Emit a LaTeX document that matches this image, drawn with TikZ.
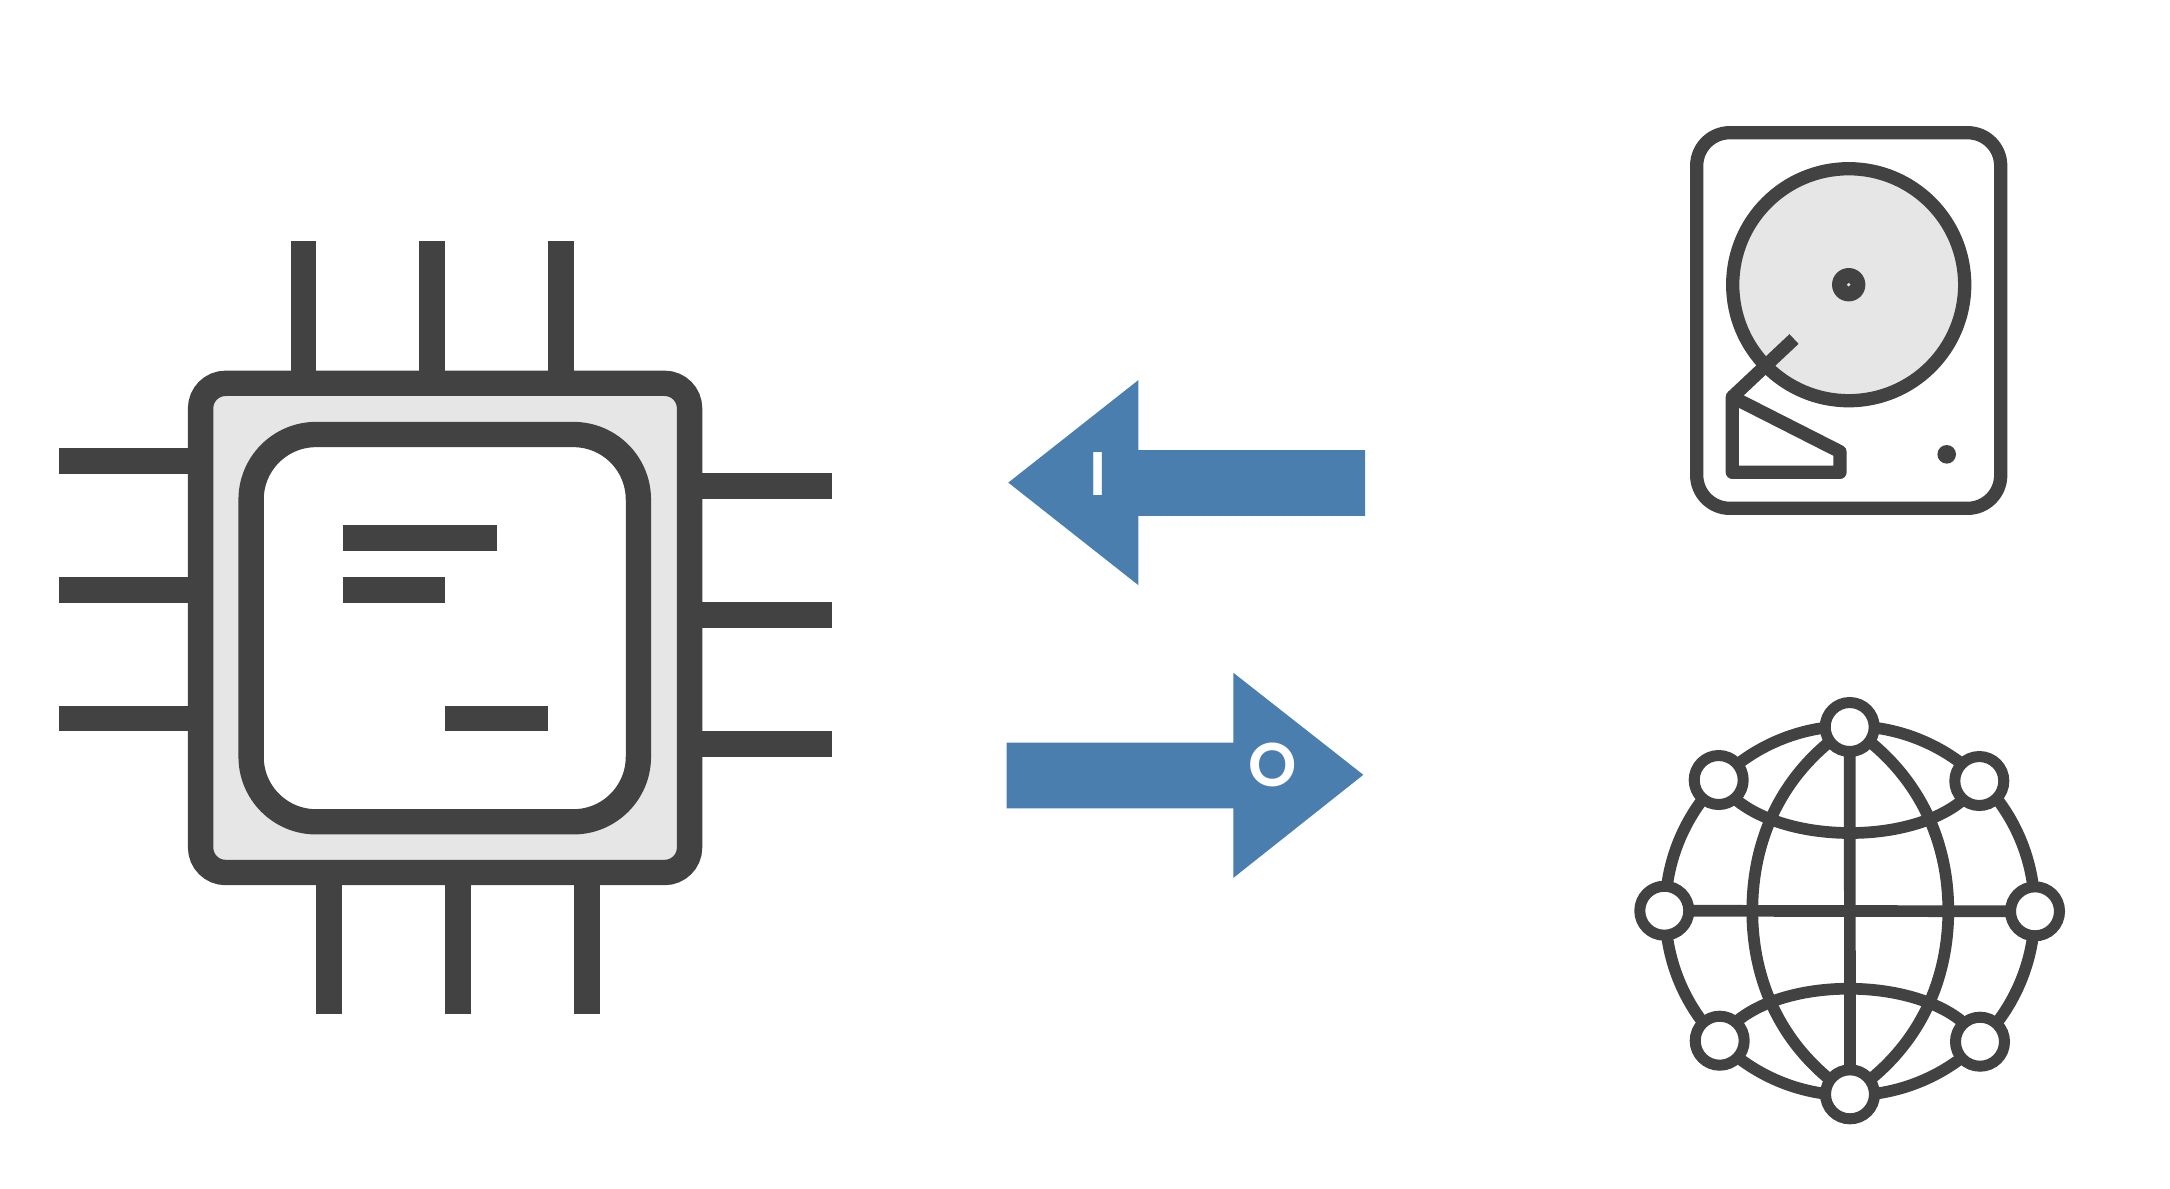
\documentclass[tikz,border=0pt]{standalone}
\usepackage{fontspec}
\setmainfont{Poppins SemiBold}
\usetikzlibrary{backgrounds}
\definecolor{icondark}{HTML}{424242}
\definecolor{icongray}{HTML}{E6E6E6}
\definecolor{arrowblue}{HTML}{4A7EAE}
\tikzset{
    pin/.style={icondark,line width=.258cm},
    chipline/.style={icondark,line width=.253cm},
    diskline/.style={icondark,line width=.133cm},
    globeline/.style={icondark,line width=.117cm},
    globenode/.style={circle,draw=icondark,fill=white,line width=.11cm,minimum size=.49cm,inner sep=0pt,outer sep=0pt},
    ioarrow/.style={fill=arrowblue,draw=none},
    iolabel/.style={text=white,inner sep=0pt,font=\fontsize{17.5}{20}\selectfont}
}
\begin{document}
\begin{tikzpicture}[x=1cm,y=-1cm]
    \useasboundingbox (0,0) rectangle (21.7,11.88);

    % chip
    \foreach \i in {3.034,4.322,5.609}{
            \draw[pin] (\i,2.414) -- (\i,3.833);
        }
    \foreach \i in {3.293,4.58,5.868}{
            \draw[pin] (\i,8.725) -- (\i,10.144);
        }
    \foreach \j in {4.609,5.897,7.184}{
            \draw[pin] (.586,\j) -- (2.006,\j);
        }
    \foreach \j in {4.862,6.149,7.437}{
            \draw[pin] (6.896,\j) -- (8.316,\j);
        }
    \draw[chipline,fill=icongray,rounded corners=.25cm] (2.006,3.833) rectangle (6.896,8.725);
    \draw[chipline,fill=white,rounded corners=.65cm] (2.511,4.345) rectangle (6.384,8.218);
    \draw[pin] (3.425,5.379) -- (4.966,5.379);
    \draw[pin] (3.425,5.897) -- (4.454,5.897);
    \draw[pin] (4.454,7.184) -- (5.483,7.184);

    % arrows
    \fill[ioarrow] (10.083,4.826) -- (11.383,3.801) -- (11.383,4.501) -- (13.65,4.501)
        -- (13.65,5.158) -- (11.383,5.158) -- (11.383,5.851) -- cycle;
    \fill[ioarrow] (13.633,7.748) -- (12.333,6.727) -- (12.333,7.427) -- (10.067,7.427)
        -- (10.067,8.083) -- (12.333,8.083) -- (12.333,8.779) -- cycle;
    \node[iolabel] (inlabel) at (10.983,4.736) {I};
    \node[iolabel] (outlabel) at (12.727,7.65) {O};

    % disk
    \draw[diskline,rounded corners=.33cm] (16.967,1.327) rectangle (20.007,5.083);
    \draw[diskline,fill=icongray] (18.487,2.847) circle (1.16);
    \fill[icondark] (18.487,2.847) circle (.167);
    \fill[icongray] (18.487,2.847) circle (.018);
    \fill[icondark] (19.467,4.543) circle (.093);
    \draw[diskline] (17.94,3.39) -- (17.323,3.97);
    \draw[diskline,line join=round] (17.323,3.97) -- (17.323,4.723)
        -- (18.40,4.723) -- (18.40,4.517) -- cycle;

    % globe
    \coordinate (gcenter) at (18.5,9.107);
    \foreach \name/\x/\y in {gtop/18.497/7.27,gbottom/18.5/10.943,gleft/16.643/9.107,gright/20.35/9.113,
            gul/17.187/7.8,gur/19.793/7.81,gll/17.197/10.407,glr/19.8/10.417}{
            \node[globenode] (\name) at (\x,\y) {};
        }
    \begin{scope}[on background layer]
        \draw[globeline] (gcenter) circle (1.847);
        \draw[globeline] (gtop.center) -- (gbottom.center);
        \draw[globeline] (gleft.center) -- (gright.center);
        \draw[globeline] (gtop.center) .. controls +(-.667,.437) and (17.523,8.377) .. (17.523,9.107)
            .. controls (17.523,9.837) and +(-.667,-.437) .. (gbottom.center);
        \draw[globeline] (gtop.center) .. controls +(.667,.437) and (19.483,8.377) .. (19.483,9.107)
            .. controls (19.483,9.837) and +(.667,-.437) .. (gbottom.center);
        \draw[globeline] (gul.center) .. controls +(.42,.7) and +(-.42,.7) .. (gur.center);
        \draw[globeline] (gll.center) .. controls +(.42,-.7) and +(-.42,-.7) .. (glr.center);
    \end{scope}
\end{tikzpicture}
\end{document}
